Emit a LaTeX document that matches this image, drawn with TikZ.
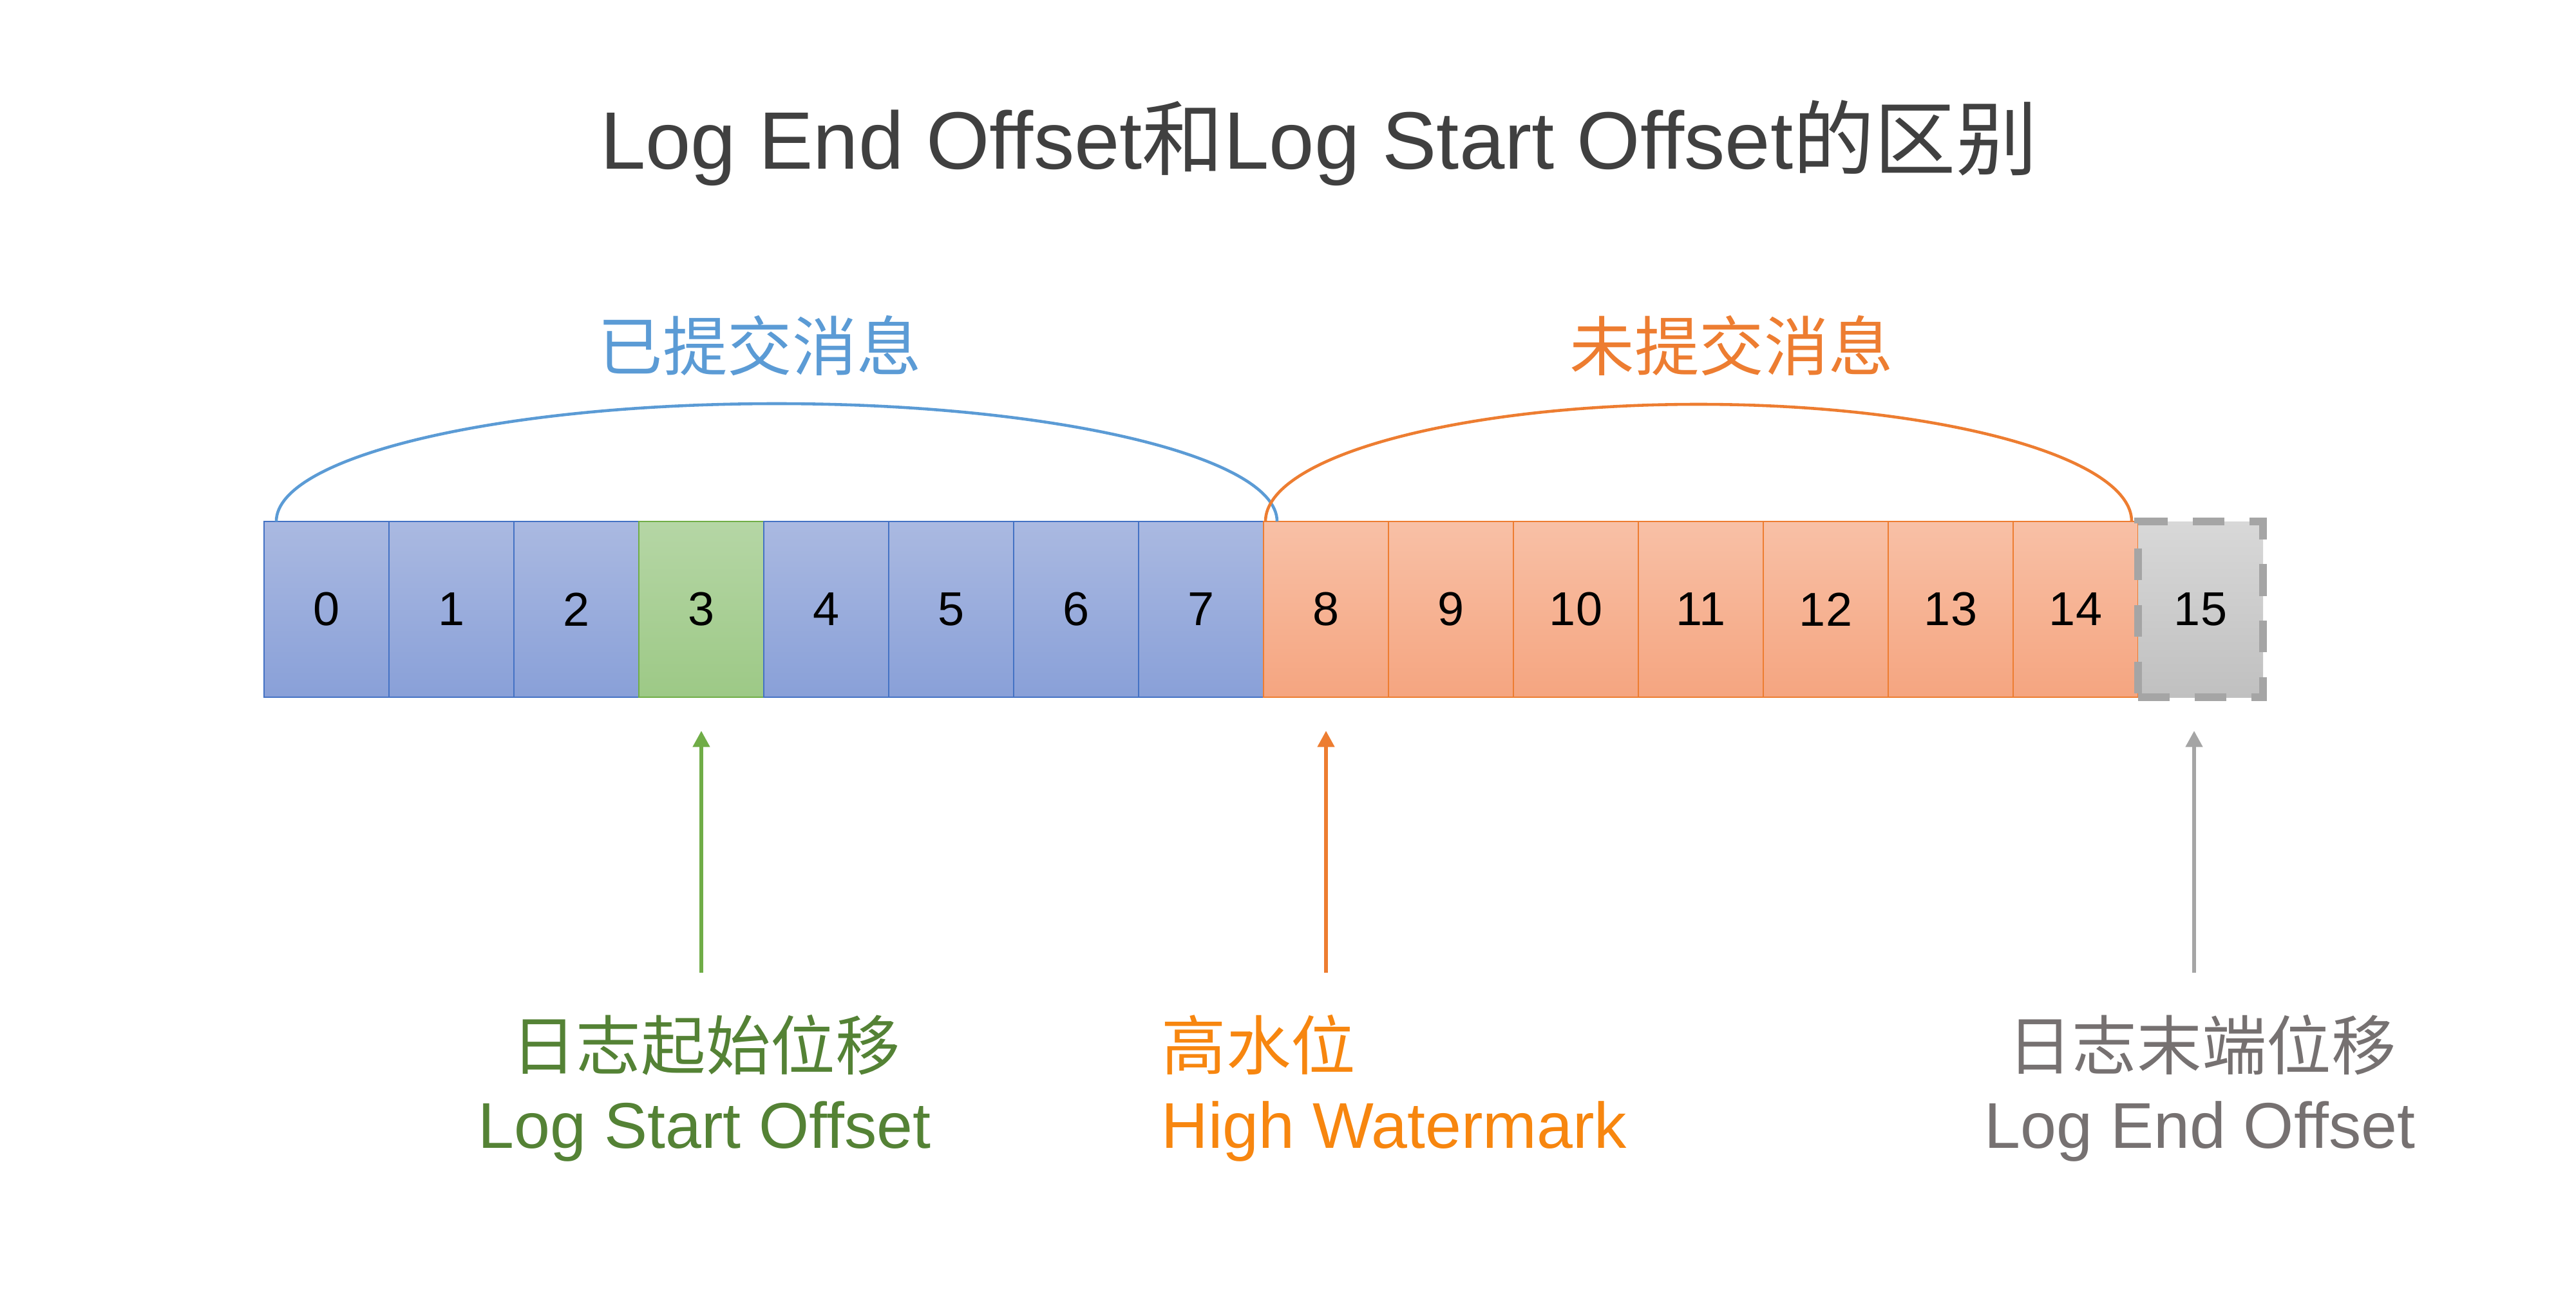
\documentclass[tikz,border=0pt]{standalone}
\usepackage{fontspec}
\setmainfont{Liberation Sans}
\newfontfamily\cjk{Noto Sans CJK SC}
\usepackage{xcolor}
\definecolor{ttl}{RGB}{64, 64, 64}
\definecolor{cblue}{RGB}{68, 114, 196}
\definecolor{ablue}{RGB}{91, 155, 213}
\definecolor{corange}{RGB}{237, 125, 49}
\definecolor{horange}{RGB}{247, 134, 15}
\definecolor{cgreen}{RGB}{112, 173, 71}
\definecolor{tgreen}{RGB}{84, 130, 53}
\definecolor{cgray}{RGB}{165, 165, 165}
\definecolor{tgray}{RGB}{118, 113, 113}
\definecolor{blueTop}{RGB}{170, 185, 225}
\definecolor{blueBot}{RGB}{137, 160, 216}
\definecolor{greenTop}{RGB}{181, 214, 165}
\definecolor{greenBot}{RGB}{157, 201, 134}
\definecolor{orTop}{RGB}{248, 192, 166}
\definecolor{orBot}{RGB}{245, 165, 128}
\definecolor{grTop}{RGB}{216, 216, 216}
\definecolor{grBot}{RGB}{192, 192, 192}
\usepackage{tikz}
\usetikzlibrary{positioning, arrows.meta}

\begin{document}
\begin{tikzpicture}[
  cell/.style={rectangle, minimum width=1.94cm, minimum height=2.73cm, inner sep=0pt, outer sep=0pt, line width=0.8pt, font=\fontsize{21}{25}\selectfont},
  cmt/.style={cell, draw=cblue, top color=blueTop, bottom color=blueBot},
  lsocell/.style={cell, draw=cgreen, top color=greenTop, bottom color=greenBot},
  unc/.style={cell, draw=corange, top color=orTop, bottom color=orBot},
  nxt/.style={cell, draw=cgray, line width=3.2pt, dash pattern=on 14pt off 11pt, top color=grTop, bottom color=grBot},
  lbl/.style={anchor=base, inner sep=0pt, font=\fontsize{28.6}{34}\selectfont},
  span/.style={line width=1.3pt},
  arr/.style={-{Triangle[length=7.2pt, width=7.2pt]}, line width=1.8pt}
]
  \useasboundingbox (0,0) rectangle (40,-20.24);

  \node[anchor=base, inner sep=0pt, text=ttl, font=\fontsize{36}{42}\selectfont] (title) at (20.48,-2.63)
    {Log End Offset{\cjk 和}Log Start Offset{\cjk 的区别}};

  % the log, one cell per offset
  \node[cmt] (c0) at (5.07,-9.465) {0};
  \node[cmt] (c1) [right=0pt of c0] {1};
  \node[cmt] (c2) [right=0pt of c1] {2};
  \node[lsocell] (c3) [right=0pt of c2] {3};
  \node[cmt] (c4) [right=0pt of c3] {4};
  \node[cmt] (c5) [right=0pt of c4] {5};
  \node[cmt] (c6) [right=0pt of c5] {6};
  \node[cmt] (c7) [right=0pt of c6] {7};
  \node[unc] (c8) [right=0pt of c7] {8};
  \node[unc] (c9) [right=0pt of c8] {9};
  \node[unc] (c10) [right=0pt of c9] {10};
  \node[unc] (c11) [right=0pt of c10] {11};
  \node[unc] (c12) [right=0pt of c11] {12};
  \node[unc] (c13) [right=0pt of c12] {13};
  \node[unc] (c14) [right=0pt of c13] {14};
  \node[nxt] (c15) [right=0pt of c14] {15};

  % committed / uncommitted spans
  \draw[span, ablue] ([xshift=0.19cm]c0.north west) arc[start angle=180, end angle=0, x radius=7.77cm, y radius=1.83cm];
  \draw[span, corange] ([xshift=0.03cm]c8.north west) arc[start angle=180, end angle=0, x radius=6.725cm, y radius=1.82cm];
  \node[lbl, text=ablue] (cmtlbl) at (11.80,-5.76) {\cjk 已提交消息};
  \node[lbl, text=corange] (unclbl) at (26.89,-5.76) {\cjk 未提交消息};

  % offsets below the log
  \node[lbl, text=tgreen] (lsocn) at (10.96,-16.61) {\cjk 日志起始位移};
  \node[lbl, text=tgreen] (lso) at (10.94,-17.83) {Log Start Offset};
  \node[lbl, anchor=base west, text=horange] (hwcn) at (18.03,-16.61) {\cjk 高水位};
  \node[lbl, anchor=base west, text=horange] (hw) at (18.03,-17.83) {High Watermark};
  \node[lbl, text=tgray] (leocn) at (34.19,-16.61) {\cjk 日志末端位移};
  \node[lbl, text=tgray] (leo) at (34.16,-17.83) {Log End Offset};

  \draw[arr, cgreen, shorten <=0.64cm, shorten >=0.52cm] (c3.south |- lsocn.north) -- (c3.south);
  \draw[arr, corange, shorten <=0.64cm, shorten >=0.52cm] (c8.south |- hwcn.north) -- (c8.south);
  \draw[arr, cgray, shorten <=0.64cm, shorten >=0.52cm] ([xshift=-0.1cm]c15.south |- leocn.north) -- ([xshift=-0.1cm]c15.south);
\end{tikzpicture}
\end{document}
